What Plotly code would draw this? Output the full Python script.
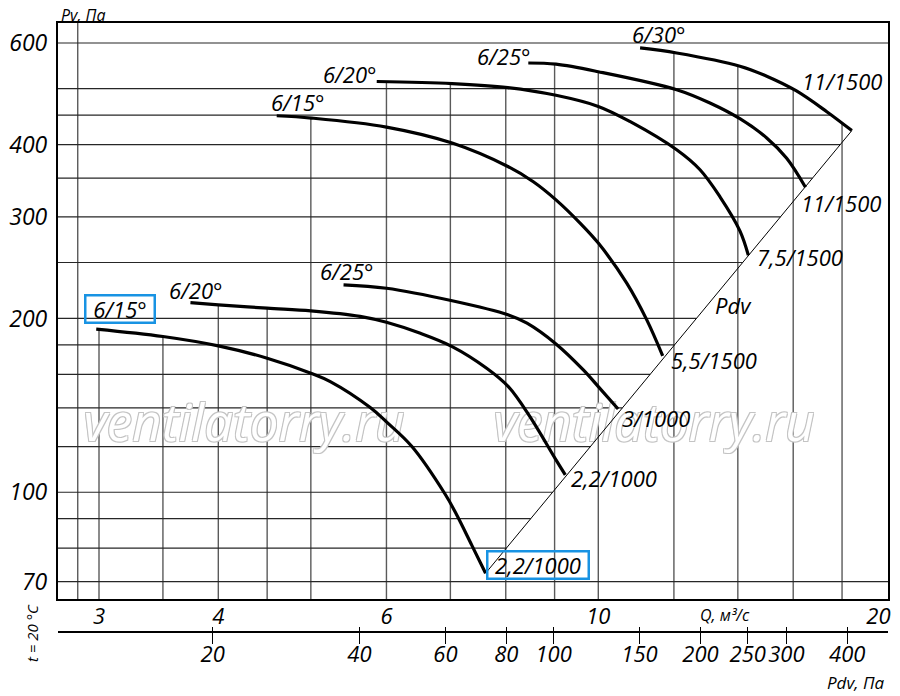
import numpy as np
import plotly.graph_objects as go

# ---------------- data ----------------
# Q in m3/s, Pv in Pa
q_615_lo = [2.98, 3.5, 4.0, 4.5, 5.0, 5.24, 5.77, 6.0, 6.38, 6.91, 7.10, 7.37, 7.62]
p_615_lo = [191.7, 186.1, 179.3, 170.7, 160.8, 155.5, 140.2, 132.4, 120.0, 99.3, 91.7, 81.0, 72.4]
q_620_lo = [3.74, 4.0, 4.5, 5.0, 5.63, 6.0, 6.5, 7.03, 7.64, 8.05, 8.48, 9.03, 9.235]
p_620_lo = [213.1, 211.2, 208.4, 206.2, 201.7, 197.0, 188.7, 178.8, 164.0, 152.4, 135.2, 113.8, 107.2]
q_625_lo = [5.41, 6.0, 7.03, 8.04, 8.42, 9.03, 9.645, 10.0, 10.49]
p_625_lo = [228.7, 225.6, 214.6, 203.0, 196.3, 180.7, 162.9, 152.4, 139.4]
q_615_hi = [4.605, 5.01, 6.0, 7.03, 8.04, 8.55, 9.03, 9.57, 10.0, 10.71, 11.24, 11.68]
p_615_hi = [448.9, 444.8, 429.1, 402.6, 366.7, 345.0, 321.0, 292.6, 270.1, 230.3, 198.9, 172.3]
q_620_hi = [5.861, 7.03, 8.04, 9.03, 10.0, 10.79, 12.08, 12.78, 13.41, 14.07, 14.36]
p_620_hi = [514.6, 510.4, 502.3, 487.1, 466.0, 438.8, 391.9, 361.9, 324.9, 283.7, 257.3]
q_625_hi = [8.447, 9.03, 10.0, 12.08, 13.09, 14.07, 15.01, 15.75, 16.48]
p_625_hi = [554.0, 551.4, 535.1, 498.0, 472.3, 443.6, 410.9, 378.9, 337.5]
q_630_hi = [11.06, 12.08, 14.07, 15.01, 16.11, 17.35, 18.43]
p_630_hi = [588.3, 576.6, 547.0, 525.6, 496.0, 456.2, 423.1]

blade_labels = ["6/15°", "6/20°", "6/25°", "6/15°", "6/20°", "6/25°", "6/30°"]
motor_labels = ["2,2/1000", "2,2/1000", "3/1000", "5,5/1500", "7,5/1500", "11/1500", "11/1500"]

# Pdv line (dynamic pressure line through curve ends)
pdv_q = [7.62, 18.43]
pdv_p = [72.4, 423.1]
pdv_label_q, pdv_label_p = 13.84, 211.2

# grid values and tick labels
grid_q = [2.85, 3, 3.5, 4, 4.5, 5, 6, 7, 8, 9, 10, 12, 14, 16, 18]
grid_p = [70, 80, 90, 100, 120, 140, 160, 180, 200, 250, 300, 350, 400, 450, 500, 600]
q_ticks = [3, 4, 6, 10, 20]
p_ticks = [70, 100, 200, 300, 400, 600]
pdv_ticks = [20, 40, 60, 80, 100, 150, 200, 250, 300, 400]

wm_text = ["ventilatorry.ru", "ventilatorry.ru"]
wm_q = [4.256, 11.44]
wm_p = [129.3, 129.3]

# ---------------- styling ----------------
FONT = "Open Sans"
LQ_RANGE = [0.43418, 1.30339]
LP_RANGE = [1.8146, 2.8128]
PDV_RANGE = [0.98401, 2.68553]
BOX_COLOR = "#1893e3"

curves = [(q_615_lo, p_615_lo), (q_620_lo, p_620_lo), (q_625_lo, p_625_lo),
          (q_615_hi, p_615_hi), (q_620_hi, p_620_hi), (q_625_hi, p_625_hi),
          (q_630_hi, p_630_hi)]
start_shift = [(24, 20), (6, 13), (3, 14), (21, 14), (-27, 8), (-24, 7), (19, 14)]
end_shift = [(52, 8), (49, -3), (38, -9), (51, -4), (52, -1.5), (36, -15.5), (-10, 50)]
boxed = [0]


def top_at(q):
    lq = np.log10(q)
    best = None
    for qs, ps in curves:
        lqs, lps = np.log10(qs), np.log10(ps)
        if lqs[0] <= lq <= lqs[-1]:
            v = float(np.interp(lq, lqs, lps))
            best = v if best is None else max(best, v)
    return 10 ** (LP_RANGE[1] if best is None else best)


def right_at(p):
    lp = np.log10(p)
    best = None
    for qs, ps in curves + [(pdv_q, pdv_p)]:
        lqs, lps = np.log10(qs), np.log10(ps)
        if lps.min() <= lp <= lps.max():
            o = np.argsort(lps)
            v = float(np.interp(lp, lps[o], lqs[o]))
            best = v if best is None else max(best, v)
    return 10 ** (LQ_RANGE[1] if best is None else best)


fig = go.Figure()

# vertical grid
vx, vy = [], []
for g in grid_q:
    vx += [g, g, None]
    vy += [10 ** LP_RANGE[0], top_at(g), None]
fig.add_trace(go.Scatter(x=vx, y=vy, mode="lines", line=dict(color="#5a5a5a", width=1.4),
                         hoverinfo="skip", showlegend=False))
# horizontal grid
hx, hy = [], []
for g in grid_p:
    hx += [10 ** LQ_RANGE[0], right_at(g), None]
    hy += [g, g, None]
fig.add_trace(go.Scatter(x=hx, y=hy, mode="lines", line=dict(color="#262626", width=1.2),
                         hoverinfo="skip", showlegend=False))

# watermark
fig.add_trace(go.Scatter(
    x=wm_q, y=wm_p, mode="text", text=wm_text, hoverinfo="skip", showlegend=False,
    textfont=dict(family=FONT, size=51, color="white", style="italic",
                  shadow="1px 1px 0 #c4c4c4, -1px -1px 0 #c4c4c4, 1px -1px 0 #c4c4c4, -1px 1px 0 #c4c4c4")))

# Pdv line
fig.add_trace(go.Scatter(x=pdv_q, y=pdv_p, mode="lines", line=dict(color="black", width=1),
                         hoverinfo="skip", showlegend=False))

label_font = dict(family=FONT, size=22, color="black", style="italic")
annotations = []
for i, (qs, ps) in enumerate(curves):
    fig.add_trace(go.Scatter(x=qs, y=ps, mode="lines",
                             line=dict(color="black", width=3.2, shape="spline", smoothing=1.0),
                             hoverinfo="skip", showlegend=False))
    for txt, (qq, pp), (dx, dy), w in [(blade_labels[i], (qs[0], ps[0]), start_shift[i], 67),
                                      (motor_labels[i], (qs[-1], ps[-1]), end_shift[i], 99)]:
        a = dict(x=np.log10(qq), y=np.log10(pp), xref="x", yref="y", text=txt,
                 showarrow=False, xshift=dx, yshift=dy, font=label_font,
                 xanchor="center", yanchor="middle")
        if i in boxed:
            a.update(bordercolor=BOX_COLOR, borderwidth=2.5, borderpad=0, width=w, height=25)
        annotations.append(a)

annotations.append(dict(x=np.log10(pdv_label_q), y=np.log10(pdv_label_p), xref="x", yref="y",
                        text="Pdv", showarrow=False, font=label_font,
                        xanchor="center", yanchor="middle"))

small_font = dict(family=FONT, size=17, color="black", style="italic")
common = dict(xref="paper", yref="paper", showarrow=False, xanchor="center", yanchor="middle")
annotations += [
    dict(x=0.0301, y=1.0135, text="Pv, Па",
         font=dict(family=FONT, size=16, color="black", style="italic"), **common),
    dict(x=0.8036, y=0.0279, text="Q, м³/с",
         font=dict(family=FONT, size=16, color="black", style="italic"), **common),
    dict(x=0.9614, y=-0.0837, text="Pdv, Па", font=small_font, **common),
    dict(x=-0.0319, y=-0.0025, text="t = 20 °C", textangle=-90,
         font=dict(family=FONT, size=15, color="black", style="italic"), **common),
]

# helper invisible traces so Pdv axes render
fig.add_trace(go.Scatter(x=[pdv_ticks[0]], y=[p_ticks[1]], xaxis="x2", mode="markers",
                         marker=dict(opacity=0), hoverinfo="skip", showlegend=False))
fig.add_trace(go.Scatter(x=[pdv_ticks[0]], y=[p_ticks[1]], xaxis="x3", mode="markers",
                         marker=dict(opacity=0), hoverinfo="skip", showlegend=False))

# last Q label is pulled inward (padded on its right) as in the original
q_ticktext = [str(v) for v in q_ticks]
q_ticktext[-1] = q_ticktext[-1] + "\u2002\u2009"

tick_font = dict(family=FONT, size=22, color="black", style="italic")
fig.update_layout(
    width=900, height=696,
    # the page body adds an 8px offset, so margins are shifted to compensate
    margin=dict(l=50, r=20, t=15, b=72, autoexpand=False),
    paper_bgcolor="white", plot_bgcolor="white",
    showlegend=False,
    annotations=annotations,
    xaxis=dict(type="log", range=LQ_RANGE, domain=[0, 1], anchor="y", automargin=False,
               showgrid=False, zeroline=False, showline=True, mirror=True,
               linecolor="black", linewidth=2.2, ticks="", tickangle=0,
               tickvals=q_ticks, ticktext=q_ticktext,
               tickfont=tick_font, ticklabelstandoff=-4),
    yaxis=dict(type="log", range=LP_RANGE, domain=[0.0537, 1], anchor="x", automargin=False,
               showgrid=False, zeroline=False, showline=True, mirror=True,
               linecolor="black", linewidth=2.2, ticks="",
               tickvals=p_ticks, ticktext=[str(v) for v in p_ticks],
               tickfont=dict(family=FONT, size=23, color="black", style="italic"),
               ticklabelstandoff=4),
    xaxis2=dict(type="log", range=PDV_RANGE, overlaying="x", anchor="free", position=0,
                side="bottom", showgrid=False, zeroline=False, showline=True, automargin=False,
                linecolor="black", linewidth=2, ticks="outside", ticklen=11, tickwidth=1.3,
                tickcolor="black", tickvals=pdv_ticks, ticktext=[str(v) for v in pdv_ticks],
                tickfont=tick_font, tickangle=0, ticklabelstandoff=-8),
    xaxis3=dict(type="log", range=PDV_RANGE, overlaying="x", anchor="free", position=0,
                side="bottom", showgrid=False, zeroline=False, showline=False, automargin=False,
                ticks="inside", ticklen=5, tickwidth=1.3, tickcolor="black",
                tickvals=pdv_ticks, showticklabels=False),
)

fig.write_html("out.html")
